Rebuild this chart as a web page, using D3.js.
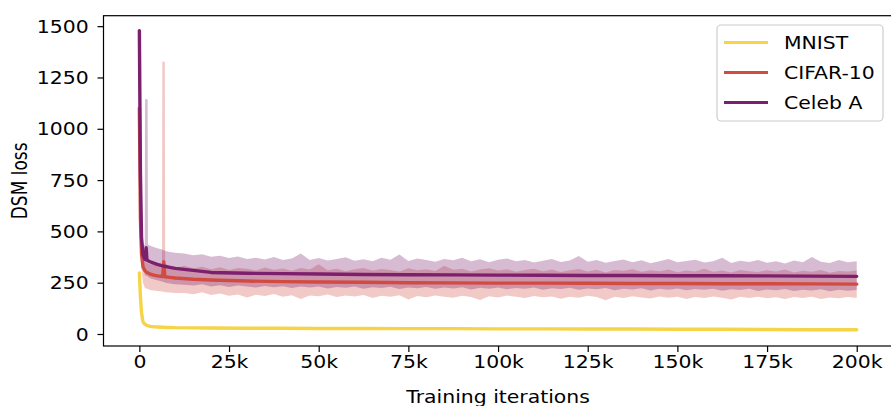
<!DOCTYPE html>
<html>
<head>
<meta charset="utf-8">
<script src="https://cdn.jsdelivr.net/npm/d3@7"></script>
<style>
  html, body { margin: 0; padding: 0; background: #fff; }
  svg { display: block; font-family: "DejaVu Sans", sans-serif; }
</style>
</head>
<body>
<svg id="chart" width="891" height="406"></svg>
<script>
// --------------------------------------------
// DATA
// --------------------------------------------

// iterations where the mean curves were sampled
const lineIters = [0, 300, 600, 1000, 1500, 1700, 1900, 2100, 2300, 3000, 4000, 5000, 6500, 6800, 7100, 8500, 10000,
  15000, 20000, 30000, 40000, 50000, 62500, 75000, 87500, 100000, 112500, 125000, 137500, 150000, 162500, 175000, 187500, 200000];

const mnistLoss = [297, 180, 105, 60, 48, 46, 44, 42, 41, 37, 35, 34, 33, 33, 32, 32, 31,
  30, 29, 28, 28, 27, 27, 26, 26, 25, 25, 24, 24, 23, 23, 22, 21, 21];
const mnistHigh = [300, 195, 118, 70, 55, 52, 50, 48, 46, 42, 40, 38, 37, 37, 36, 36, 35,
  34, 33, 32, 32, 31, 31, 30, 30, 29, 29, 28, 28, 27, 27, 26, 25, 25];
const mnistLow = [285, 165, 92, 52, 42, 40, 38, 37, 36, 33, 31, 30, 29, 29, 28, 28, 27,
  26, 25, 24, 24, 23, 23, 22, 22, 21, 21, 20, 20, 19, 19, 18, 17, 17];

const cifarLoss = [1100, 560, 390, 328, 310, 306, 303, 300, 298, 292, 287, 283, 280, 352, 279, 276, 273,
  267, 263, 258, 255, 253, 252, 250, 249, 248, 248, 247, 246, 246, 245, 245, 244, 243];
const celebLoss = [1478, 780, 470, 385, 366, 362, 420, 362, 358, 352, 345, 339, 332, 331, 330, 325, 320,
  310, 300, 296, 294, 292, 290, 289, 288, 287, 286, 285, 285, 284, 284, 283, 282, 281];

// iterations where the min / max bands were sampled
const bandIters = [0, 500, 1000, 1500, 1600, 2300, 2400, 3000, 4000, 5000, 6300, 6400, 7100, 7200, 8500, 10000]
  .concat(d3.range(12500, 200001, 2500));

const cifarHigh = [1120, 470, 372, 352, 350, 346, 344, 340, 337, 334, 331, 1327, 1327, 330, 325, 322,
  332, 320, 328, 316, 325, 312, 322, 318, 310, 324,
  313, 319, 308, 321, 314, 340, 311, 318, 306, 315,
  322, 309, 317, 312, 305, 320, 311, 316, 307, 333,
  313, 318, 304, 314, 320, 309, 315, 303, 312, 318,
  306, 314, 302, 311, 317, 305, 313, 300, 312, 308,
  316, 303, 311, 306, 314, 301, 310, 305, 318, 303,
  309, 300, 312, 306, 302, 311, 305, 314, 300, 308,
  303, 312, 299, 307, 304, 310];
const cifarLow = [950, 330, 250, 226, 223, 220, 218, 214, 212, 209, 207, 207, 205, 204, 202, 200,
  200, 194, 203, 190, 197, 186, 193, 178, 191, 185,
  195, 182, 189, 170, 188, 184, 192, 180, 187, 183,
  190, 176, 186, 181, 189, 168, 185, 179, 188, 182,
  177, 186, 180, 166, 184, 178, 187, 181, 175, 185,
  179, 183, 172, 182, 177, 186, 180, 164, 181, 176,
  184, 178, 173, 183, 177, 181, 170, 180, 175, 183,
  177, 168, 181, 176, 182, 174, 179, 171, 180, 175,
  181, 170, 178, 174, 180, 176];
const celebHigh = [1480, 640, 445, 432, 1144, 1144, 436, 430, 424, 418, 412, 410, 407, 405, 400, 396,
  392, 384, 388, 376, 381, 370, 378, 366, 372, 363,
  375, 360, 368, 392, 361, 370, 358, 366, 374, 357,
  364, 355, 371, 362, 387, 356, 368, 360, 352, 366,
  359, 372, 355, 364, 350, 362, 368, 354, 360, 348,
  357, 365, 351, 358, 380, 352, 360, 347, 356, 363,
  350, 359, 345, 354, 366, 349, 356, 362, 348, 355,
  372, 346, 357, 351, 360, 347, 354, 344, 358, 350,
  375, 352, 346, 360, 349, 355];
const celebLow = [1300, 420, 318, 290, 286, 281, 279, 272, 267, 262, 256, 255, 252, 250, 246, 242,
  240, 236, 243, 232, 238, 229, 236, 231, 226, 234,
  228, 233, 224, 231, 226, 232, 222, 229, 225, 231,
  221, 228, 224, 230, 219, 227, 223, 229, 220, 226,
  222, 228, 217, 225, 221, 227, 218, 224, 220, 226,
  216, 223, 219, 225, 215, 222, 218, 224, 213, 221,
  217, 223, 212, 220, 216, 222, 213, 219, 215, 221,
  211, 218, 214, 220, 210, 217, 213, 219, 209, 216,
  212, 218, 208, 215, 211, 214];

const xTicks = [0, 25000, 50000, 75000, 100000, 125000, 150000, 175000, 200000];
const xTickLabels = ["0", "25k", "50k", "75k", "100k", "125k", "150k", "175k", "200k"];
const yTicks = [0, 250, 500, 750, 1000, 1250, 1500];
const yTickLabels = ["0", "250", "500", "750", "1000", "1250", "1500"];

const names = ["MNIST", "CIFAR-10", "Celeb A"];
const colors = ["#f6d447", "#d24b41", "#7c1f6d"];

// --------------------------------------------
// LAYOUT
// --------------------------------------------
const svg = d3.select("#chart");
const plotLeft = 103.5, plotRight = 892.6, plotTop = 15.7, plotBottom = 346;
const SX = 1.2; // the figure's text is a bit wider than tall
const FONT = 17;

const x = d3.scaleLinear().domain([-10000, 210000]).range([plotLeft, plotRight]);
const y = d3.scaleLinear().domain([-58.5, 1551]).range([plotBottom, plotTop]);

const zip = (xs, ...cols) => xs.map((v, i) => [v, ...cols.map((c) => c[i])]);

const bands = [
  zip(lineIters, mnistLow, mnistHigh),
  zip(bandIters, cifarLow, cifarHigh),
  zip(bandIters, celebLow, celebHigh),
];
const means = [
  zip(lineIters, mnistLoss),
  zip(lineIters, cifarLoss),
  zip(lineIters, celebLoss),
];

const area = d3.area()
  .x((d) => x(d[0]))
  .y0((d) => y(d[1]))
  .y1((d) => y(d[2]));
const line = d3.line()
  .x((d) => x(d[0]))
  .y((d) => y(d[1]));

// bands under everything
svg.append("g")
  .selectAll("path")
  .data(bands)
  .join("path")
  .attr("d", area)
  .attr("fill", (d, i) => colors[i])
  .attr("fill-opacity", 0.3);

svg.append("g")
  .selectAll("path")
  .data(means)
  .join("path")
  .attr("d", line)
  .attr("fill", "none")
  .attr("stroke", (d, i) => colors[i])
  .attr("stroke-width", 3.4)
  .attr("stroke-linejoin", "round")
  .attr("stroke-linecap", "round");

// --------------------------------------------
// AXES
// --------------------------------------------
const gx = svg.append("g")
  .attr("transform", `translate(0,${plotBottom})`)
  .call(d3.axisBottom(x).tickValues(xTicks).tickFormat((d, i) => xTickLabels[i]).tickSize(6));
gx.select(".domain").remove();
gx.selectAll("line").attr("stroke", "#000").attr("stroke-width", 1.2);
gx.selectAll("text")
  .attr("fill", "#000")
  .attr("font-size", FONT)
  .attr("font-family", "DejaVu Sans")
  .attr("y", 9)
  .attr("dy", "0.76em")
  .attr("transform", `scale(${SX},1)`);

const gy = svg.append("g")
  .attr("transform", `translate(${plotLeft},0)`)
  .call(d3.axisLeft(y).tickValues(yTicks).tickFormat((d, i) => yTickLabels[i]).tickSize(6));
gy.select(".domain").remove();
gy.selectAll("line").attr("stroke", "#000").attr("stroke-width", 1.2);
gy.selectAll("text")
  .attr("fill", "#000")
  .attr("font-size", FONT)
  .attr("font-family", "DejaVu Sans")
  .attr("x", -12.3)
  .attr("dy", "0.36em")
  .attr("transform", `scale(${SX},1)`);

// frame
svg.append("rect")
  .attr("x", plotLeft).attr("y", plotTop)
  .attr("width", plotRight - plotLeft).attr("height", plotBottom - plotTop)
  .attr("fill", "none")
  .attr("stroke", "#000")
  .attr("stroke-width", 1.2);

svg.append("text")
  .attr("transform", `translate(${(plotLeft + plotRight) / 2},402.5) scale(${SX},1)`)
  .attr("text-anchor", "middle")
  .attr("font-size", FONT)
  .text("Training iterations");

svg.append("text")
  .attr("transform", `translate(27,${(plotTop + plotBottom) / 2}) scale(${SX},1) rotate(-90)`)
  .attr("text-anchor", "middle")
  .attr("font-size", FONT)
  .text("DSM loss");

// --------------------------------------------
// LEGEND
// --------------------------------------------
const lg = svg.append("g");
lg.append("rect")
  .attr("x", 717).attr("y", 25)
  .attr("width", 166).attr("height", 96)
  .attr("rx", 4)
  .attr("fill", "#fff").attr("fill-opacity", 0.8)
  .attr("stroke", "#cccccc").attr("stroke-width", 1.2);

const items = lg.selectAll("g.item")
  .data(names)
  .join("g")
  .attr("class", "item")
  .attr("transform", (d, i) => `translate(0,${42.5 + i * 30})`);
items.append("line")
  .attr("x1", 724).attr("x2", 768)
  .attr("stroke", (d, i) => colors[i])
  .attr("stroke-width", 3.2);
items.append("text")
  .attr("transform", `translate(784,6.3) scale(${SX},1)`)
  .attr("font-size", FONT)
  .attr("fill", "#000")
  .text((d) => d);
</script>
</body>
</html>
